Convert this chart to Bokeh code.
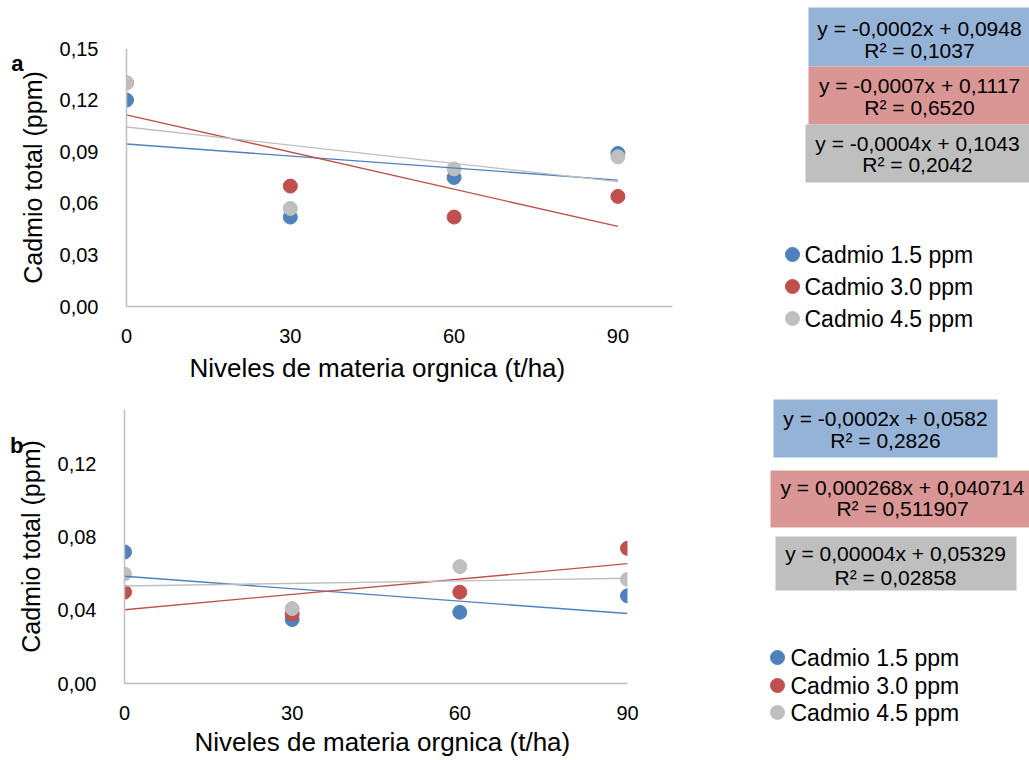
import numpy as np
from bokeh.plotting import figure
from bokeh.layouts import column, row
from bokeh.models import Range1d, FixedTicker, CustomJSTickFormatter, LinearAxis, Title
from bokeh.core.properties import value
from bokeh.embed import file_html
from bokeh.resources import INLINE

# ---------------- data ----------------
x_levels = [0, 30, 60, 90]
a_cd15 = [0.120, 0.052, 0.075, 0.089]
a_cd30 = [0.130, 0.070, 0.052, 0.064]
a_cd45 = [0.130, 0.057, 0.080, 0.087]
b_cd15 = [0.072, 0.035, 0.039, 0.048]
b_cd30 = [0.050, 0.038, 0.050, 0.074]
b_cd45 = [0.060, 0.041, 0.064, 0.057]

series_names = ["Cadmio 1.5 ppm", "Cadmio 3.0 ppm", "Cadmio 4.5 ppm"]
a_eq1 = ["y = -0,0002x + 0,0948", "y = -0,0007x + 0,1117", "y = -0,0004x + 0,1043"]
a_eq2 = ["R² = 0,1037", "R² = 0,6520", "R² = 0,2042"]
b_eq1 = ["y = -0,0002x + 0,0582", "y = 0,000268x + 0,040714", "y = 0,00004x + 0,05329"]
b_eq2 = ["R² = 0,2826", "R² = 0,511907", "R² = 0,02858"]
x_ticks = [0, 30, 60, 90]
a_yticks = [0, 0.03, 0.06, 0.09, 0.12, 0.15]
b_yticks = [0, 0.04, 0.08, 0.12]
y_title = "Cadmio total (ppm)"
x_title = "Niveles de materia orgnica (t/ha)"

# ---------------- style ----------------
colors = ["#4F81BD", "#C0504D", "#BFBFBF"]
box_colors = ["#95B3D7", "#D99694", "#BFBFBF"]
FONT = "Liberation Sans"
AXIS_COL = "#BFBFBF"
MAIN_W, SIDE_W = 740, 289


def no_align(fig):
    try:
        fig.frame_align = False
    except Exception:
        pass


def make_main(series, xmax, yticks, H, fl, fr, ft, fb, letter, letter_py, letter_standoff,
              title_offset, title_standoff):
    p = figure(width=MAIN_W, height=H, x_range=Range1d(0, xmax), y_range=Range1d(0, 0.15),
               output_backend="svg", toolbar_location=None,
               min_border_left=fl, min_border_right=MAIN_W - fr,
               min_border_top=ft, min_border_bottom=H - fb)
    no_align(p)
    p.xgrid.visible = False
    p.ygrid.visible = False
    p.outline_line_color = None
    p.xaxis.ticker = FixedTicker(ticks=x_ticks)
    p.yaxis.ticker = FixedTicker(ticks=yticks)
    p.yaxis.formatter = CustomJSTickFormatter(code="return tick.toFixed(2).replace('.', ',');")
    for ax in (p.xaxis, p.yaxis):
        ax.axis_line_color = AXIS_COL
        ax.axis_line_width = 1.5
        ax.major_tick_line_color = None
        ax.minor_tick_line_color = None
        ax.major_label_text_font = FONT
        ax.major_label_text_font_size = "20px"
        ax.major_label_text_color = "black"
    p.xaxis.major_label_standoff = 16
    p.yaxis.major_label_standoff = 22
    p.yaxis.axis_label = y_title
    p.yaxis.axis_label_text_font = FONT
    p.yaxis.axis_label_text_font_size = "25px"
    p.yaxis.axis_label_text_font_style = "normal"
    p.yaxis.axis_label_text_color = "black"
    p.yaxis.axis_label_standoff = 10

    # panel letter as an extra (line-less) axis in the left margin
    fh = fb - ft
    ly = (fb - letter_py) / fh * 0.15
    lax = LinearAxis(ticker=FixedTicker(ticks=[ly]),
                     formatter=CustomJSTickFormatter(code="return '%s';" % letter),
                     axis_line_color=None, major_tick_line_color=None,
                     minor_tick_line_color=None, major_label_standoff=letter_standoff,
                     major_label_text_font=FONT, major_label_text_font_size="22px",
                     major_label_text_font_style="bold", major_label_text_color="black")
    p.add_layout(lax, "left")

    # x title
    p.add_layout(Title(text=x_title, align="left", offset=title_offset, standoff=title_standoff,
                       text_font=FONT, text_font_size="26px", text_font_style="normal",
                       text_color="black"), "below")

    xs = np.array(x_levels, dtype=float)
    for ys, c in zip(series, colors):
        p.scatter(x_levels, ys, size=14, fill_color=c, line_color=c)
    for ys, c in zip(series, colors):
        k, b = np.polyfit(xs, np.array(ys), 1)
        xe = [xs.min(), xs.max()]
        p.line(xe, [k * v + b for v in xe], line_color=c, line_width=1.4)
    return p


def make_side(y0, H, boxes, eq1, eq2, eq_x, eq_y, leg_dot_x, leg_txt_x, leg_y):
    s = figure(width=SIDE_W, height=H, x_range=Range1d(MAIN_W, MAIN_W + SIDE_W),
               y_range=Range1d(y0 + H, y0), output_backend="svg", toolbar_location=None,
               min_border=0)
    no_align(s)
    s.axis.visible = False
    s.xgrid.visible = False
    s.ygrid.visible = False
    s.outline_line_color = None
    s.quad(left=[b[0] for b in boxes], right=[b[1] for b in boxes],
           top=[b[2] for b in boxes], bottom=[b[3] for b in boxes],
           fill_color=box_colors, line_color=None)
    s.text(x=eq_x, y=[e[0] for e in eq_y], text=eq1, text_align="center", text_baseline="middle",
           text_font=value(FONT), text_font_size="21px", text_color="black")
    s.text(x=eq_x, y=[e[1] for e in eq_y], text=eq2, text_align="center", text_baseline="middle",
           text_font=value(FONT), text_font_size="21px", text_color="black")
    s.scatter(x=[leg_dot_x] * 3, y=leg_y, size=14, fill_color=colors, line_color=colors)
    s.text(x=[leg_txt_x] * 3, y=leg_y, text=series_names, text_align="left", text_baseline="middle",
           text_font=value(FONT), text_font_size="23px", text_color="black")
    return s


H1, H2 = 390, 370
pa = make_main([a_cd15, a_cd30, a_cd45], 100, a_yticks, H1, 126, 672, 48, 306,
               "a", 63, -14, 63, 10)
pb = make_main([b_cd15, b_cd30, b_cd45], 90, b_yticks, H2, 124, 627, 409 - H1, 683 - H1,
               "b", 445 - H1, -16, 70, 4)

sa = make_side(0, H1,
               [(808, 1029, 7, 66), (808, 1029, 66, 124), (805, 1029, 124, 182)],
               a_eq1, a_eq2, [919, 919, 917], [(28, 50), (85, 107), (143, 164)],
               792, 804, [254, 286, 318])
sb = make_side(H1, H2,
               [(773, 997, 399, 457), (770, 1029, 470, 527), (775, 1016, 536, 590)],
               b_eq1, b_eq2, [885, 902, 895], [(418, 440), (487, 508), (553, 577)],
               777, 790, [657, 685, 712])

layout = column(row(pa, sa), row(pb, sb))
open("out.html", "w").write(file_html(layout, INLINE))
